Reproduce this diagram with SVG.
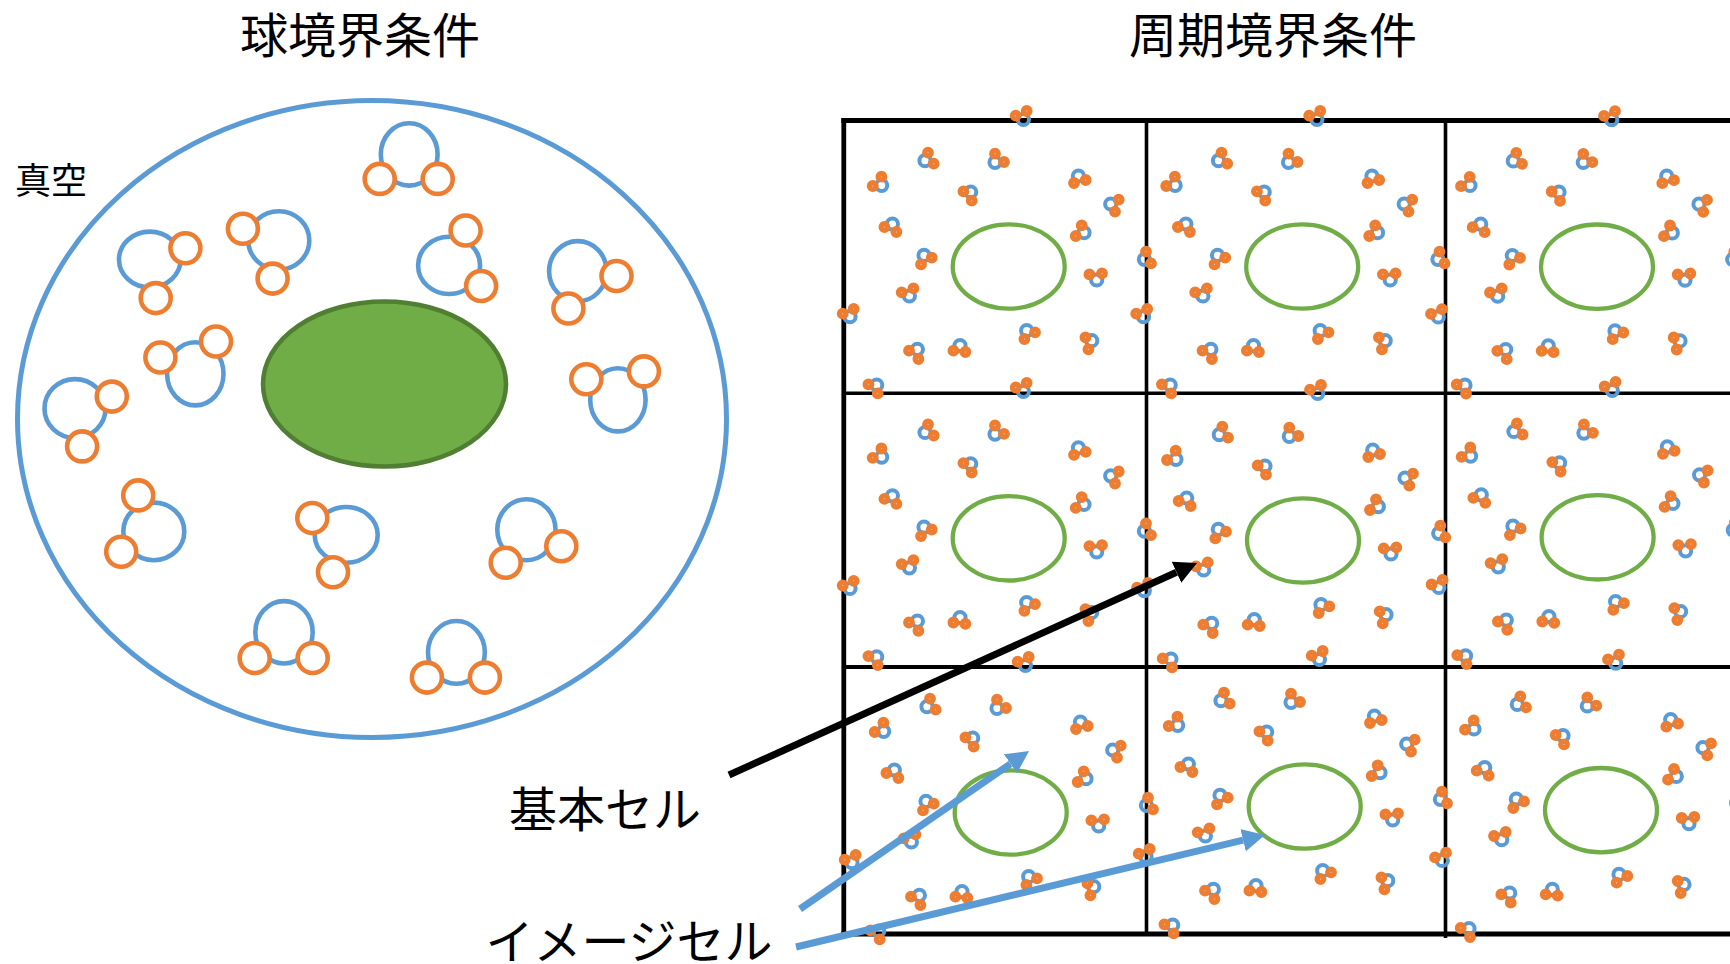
<svg xmlns="http://www.w3.org/2000/svg" xmlns:xlink="http://www.w3.org/1999/xlink" width="1730" height="964" viewBox="0 0 1730 964">
  <style>
    .title { font-family: "Noto Sans CJK JP", "Noto Sans CJK SC", sans-serif; font-size: 48px; fill: #000; }
    .small { font-family: "Noto Sans CJK JP", "Noto Sans CJK SC", sans-serif; font-size: 36px; fill: #000; }
    .vessel { fill: none; stroke: #5B9BD5; stroke-width: 5; }
    .solute { fill: #70AD47; stroke: #507E32; stroke-width: 4.5; }
    .ring { fill: none; stroke: #5B9BD5; stroke-width: 4.6; }
    .atom { fill: #fff; stroke: #ED7D31; stroke-width: 4.6; }
    .grid-outer { stroke: #000; stroke-width: 4.8; fill: none; }
    .grid-inner { stroke: #000; stroke-width: 3.6; fill: none; }
    .s-ring { fill: none; stroke: #70AD47; stroke-width: 4.3; }
    .w { fill: none; stroke: #5B9BD5; stroke-width: 4; }
    .h { fill: #FBE3D1; stroke: #ED7D31; stroke-width: 5.4; }
    .arrow-k { stroke: #000; stroke-width: 7; fill: none; }
    .arrow-b { stroke: #5B9BD5; stroke-width: 7; fill: none; }
  </style>
  <defs>
    <marker id="head-k" viewBox="0 0 10 10" refX="0" refY="5" markerUnits="userSpaceOnUse" markerWidth="22.5" markerHeight="23" preserveAspectRatio="none" orient="auto">
      <path d="M0,0 L10,5 L0,10 z" fill="#000"/>
    </marker>
    <marker id="head-b" viewBox="0 0 10 10" refX="0" refY="5" markerUnits="userSpaceOnUse" markerWidth="22.5" markerHeight="23" preserveAspectRatio="none" orient="auto">
      <path d="M0,0 L10,5 L0,10 z" fill="#5B9BD5"/>
    </marker>
    <!-- one periodic cell: solute outline plus water molecules, centred on the solute -->
    <g id="cell">
      <ellipse cx="0" cy="0" rx="56" ry="42.2" class="s-ring"/>
      <g><circle class="w" cx="14.7" cy="-147" r="5.6"/><circle class="h" cx="7" cy="-150.8" r="3.2"/><circle class="h" cx="18" cy="-155.5" r="3.2"/></g>
      <g><circle class="w" cx="-83.7" cy="-105.8" r="5.6"/><circle class="h" cx="-80.7" cy="-113.8" r="3.2"/><circle class="h" cx="-75" cy="-102.8" r="3.2"/></g>
      <g><circle class="w" cx="-13.7" cy="-104.2" r="5.6"/><circle class="h" cx="-13.7" cy="-112.8" r="3.2"/><circle class="h" cx="-4.7" cy="-104.5" r="3.2"/></g>
      <g><circle class="w" cx="-127" cy="-81.2" r="5.6"/><circle class="h" cx="-127.3" cy="-89.8" r="3.2"/><circle class="h" cx="-136" cy="-80.5" r="3.2"/></g>
      <g><circle class="w" cx="-38" cy="-74.5" r="5.6"/><circle class="h" cx="-45.3" cy="-75.2" r="3.2"/><circle class="h" cx="-37" cy="-65.8" r="3.2"/></g>
      <g><circle class="w" cx="69.7" cy="-90.5" r="5.6"/><circle class="h" cx="65.3" cy="-83.5" r="3.2"/><circle class="h" cx="77" cy="-86.5" r="3.2"/></g>
      <g><circle class="w" cx="102" cy="-62.5" r="5.6"/><circle class="h" cx="110" cy="-66.8" r="3.2"/><circle class="h" cx="106.3" cy="-54.8" r="3.2"/></g>
      <g><circle class="w" cx="-116.3" cy="-42.5" r="5.6"/><circle class="h" cx="-124.3" cy="-39.5" r="3.2"/><circle class="h" cx="-112.3" cy="-34.5" r="3.2"/></g>
      <g><circle class="w" cx="75.3" cy="-33.8" r="5.6"/><circle class="h" cx="73" cy="-41.2" r="3.2"/><circle class="h" cx="67" cy="-30.5" r="3.2"/></g>
      <g><circle class="w" cx="-84.7" cy="-11.2" r="5.6"/><circle class="h" cx="-77" cy="-8.8" r="3.2"/><circle class="h" cx="-87.7" cy="-2.2" r="3.2"/></g>
      <g><circle class="w" cx="135.7" cy="-7.2" r="5.6"/><circle class="h" cx="137.3" cy="-14.8" r="3.2"/><circle class="h" cx="142.3" cy="-3.2" r="3.2"/></g>
      <g><circle class="w" cx="88" cy="13.5" r="5.6"/><circle class="h" cx="80.7" cy="7.8" r="3.2"/><circle class="h" cx="93.3" cy="6.8" r="3.2"/></g>
      <g><circle class="w" cx="-99.3" cy="29.5" r="5.6"/><circle class="h" cx="-107" cy="25.8" r="3.2"/><circle class="h" cx="-95.3" cy="21.8" r="3.2"/></g>
      <g><circle class="w" cx="-158.7" cy="50.2" r="5.6"/><circle class="h" cx="-166" cy="47.2" r="3.2"/><circle class="h" cx="-155" cy="42.5" r="3.2"/></g>
      <g><circle class="w" cx="18" cy="64.2" r="5.6"/><circle class="h" cx="26.3" cy="65.8" r="3.2"/><circle class="h" cx="15.7" cy="72.5" r="3.2"/></g>
      <g><circle class="w" cx="83" cy="74.2" r="5.6"/><circle class="h" cx="76.7" cy="70.8" r="3.2"/><circle class="h" cx="79.7" cy="82.8" r="3.2"/></g>
      <g><circle class="w" cx="-91.3" cy="82.8" r="5.6"/><circle class="h" cx="-99.7" cy="84.2" r="3.2"/><circle class="h" cx="-90.3" cy="92.5" r="3.2"/></g>
      <g><circle class="w" cx="-48.7" cy="79.2" r="5.6"/><circle class="h" cx="-55.3" cy="84.2" r="3.2"/><circle class="h" cx="-43.3" cy="85.5" r="3.2"/></g>
      <g><circle class="w" cx="-132" cy="118.5" r="5.6"/><circle class="h" cx="-140.3" cy="117.8" r="3.2"/><circle class="h" cx="-131" cy="126.8" r="3.2"/></g>
    </g>
  </defs>

  <rect width="1730" height="964" fill="#fff"/>

  <!-- headings -->
  <g id="titles">
    <text class="title" x="360" y="53" text-anchor="middle">球境界条件</text>
    <text class="title" x="1273" y="53" text-anchor="middle">周期境界条件</text>
  </g>

  <!-- spherical boundary: solute in a droplet of water, vacuum outside -->
  <g id="sphere-system">
    <text class="small" x="15" y="194">真空</text>
    <ellipse id="sphere" cx="372" cy="419" rx="354.5" ry="318.5" class="vessel"/>
    <ellipse id="solute" cx="384.5" cy="384" rx="121.5" ry="82.5" class="solute"/>
    <g id="water-a"><ellipse class="ring" cx="409.2" cy="154.4" rx="28.4" ry="31.2"/><circle class="atom" cx="379.7" cy="178.9" r="15"/><circle class="atom" cx="437.7" cy="178.9" r="15"/></g>
    <g id="water-b"><ellipse class="ring" cx="149.8" cy="259.5" rx="30.8" ry="27.9"/><circle class="atom" cx="185.4" cy="248.3" r="15"/><circle class="atom" cx="155.7" cy="298.1" r="15"/></g>
    <g id="water-c"><ellipse class="ring" cx="278.8" cy="240.4" rx="30.5" ry="29.2"/><circle class="atom" cx="242.9" cy="228.7" r="15"/><circle class="atom" cx="272.6" cy="278.6" r="15"/></g>
    <g id="water-d"><ellipse class="ring" cx="449.1" cy="265.4" rx="31" ry="28.6"/><circle class="atom" cx="465.6" cy="230.5" r="15"/><circle class="atom" cx="481.1" cy="286" r="15"/></g>
    <g id="water-e"><ellipse class="ring" cx="577.8" cy="271.2" rx="28.7" ry="30.1"/><circle class="atom" cx="616.5" cy="276" r="15"/><circle class="atom" cx="568.4" cy="308.5" r="15"/></g>
    <g id="water-f"><ellipse class="ring" cx="195.3" cy="373.8" rx="28.2" ry="31.6"/><circle class="atom" cx="160.4" cy="357.5" r="15"/><circle class="atom" cx="216" cy="341.5" r="15"/></g>
    <g id="water-g"><ellipse class="ring" cx="75" cy="408.5" rx="30.5" ry="29.4"/><circle class="atom" cx="111.8" cy="396.6" r="15"/><circle class="atom" cx="82.1" cy="446.4" r="15"/></g>
    <g id="water-h"><ellipse class="ring" cx="617.9" cy="399.8" rx="27.7" ry="31.6"/><circle class="atom" cx="586.3" cy="379.2" r="15"/><circle class="atom" cx="643.9" cy="371.4" r="15"/></g>
    <g id="water-i"><ellipse class="ring" cx="153.8" cy="531.4" rx="30.5" ry="28.8"/><circle class="atom" cx="138.2" cy="495.4" r="15"/><circle class="atom" cx="121.2" cy="551.8" r="15"/></g>
    <g id="water-j"><ellipse class="ring" cx="346.2" cy="534.9" rx="31.5" ry="27.9"/><circle class="atom" cx="312.3" cy="518" r="15"/><circle class="atom" cx="333" cy="572.2" r="15"/></g>
    <g id="water-k"><ellipse class="ring" cx="526.4" cy="529.7" rx="29.1" ry="30.5"/><circle class="atom" cx="505.7" cy="562.7" r="15"/><circle class="atom" cx="561.3" cy="546.2" r="15"/></g>
    <g id="water-l"><ellipse class="ring" cx="284" cy="632.3" rx="28.7" ry="31.2"/><circle class="atom" cx="254.7" cy="658" r="15"/><circle class="atom" cx="312.7" cy="658" r="15"/></g>
    <g id="water-m"><ellipse class="ring" cx="456.4" cy="652.4" rx="28.4" ry="31.4"/><circle class="atom" cx="426.9" cy="677.6" r="15"/><circle class="atom" cx="484.9" cy="677.6" r="15"/></g>
  </g>

  <!-- periodic boundary: 3 x 3 lattice of cells -->
  <g id="lattice">
    <line class="grid-outer" x1="843.8" y1="118" x2="843.8" y2="936.5"/>
    <line class="grid-outer" x1="841.4" y1="120.5" x2="1730" y2="120.5"/>
    <line class="grid-outer" x1="841.4" y1="934" x2="1730" y2="934"/>
    <line class="grid-inner" x1="1146.5" y1="120.5" x2="1146.5" y2="936"/>
    <line class="grid-inner" x1="1445.5" y1="120.5" x2="1445.5" y2="938"/>
    <line class="grid-inner" x1="846" y1="393.2" x2="1730" y2="393.2"/>
    <line class="grid-inner" x1="846" y1="667" x2="1730" y2="667" style="stroke-width:4.2"/>
  </g>
  <g id="cells">
    <use id="cell-1-1" href="#cell" x="1008.7" y="266.5"/>
    <use id="cell-1-2" href="#cell" x="1302.2" y="266.5"/>
    <use id="cell-1-3" href="#cell" x="1597" y="266.7"/>
    <use id="cell-2-1" href="#cell" x="1008.7" y="538.3"/>
    <use id="cell-2-2" href="#cell" x="1303" y="540.5"/>
    <use id="cell-2-3" href="#cell" x="1597.6" y="537.3"/>
    <use id="cell-3-1" href="#cell" x="1010.7" y="812.5"/>
    <use id="cell-3-2" href="#cell" x="1304.7" y="806.5"/>
    <use id="cell-3-3" href="#cell" x="1601" y="810.2"/>
  </g>

  <!-- callout arrows -->
  <g id="connectors">
    <line class="arrow-k" x1="729" y1="775" x2="1176.5" y2="572.3" marker-end="url(#head-k)"/>
    <line class="arrow-b" x1="800" y1="909" x2="1010.5" y2="763.8" marker-end="url(#head-b)"/>
    <line class="arrow-b" x1="796" y1="947" x2="1243.1" y2="840.2" marker-end="url(#head-b)"/>
  </g>

  <g id="labels">
    <text class="title" x="605" y="827" text-anchor="middle">基本セル</text>
    <text class="title" x="629" y="959" text-anchor="middle">イメージセル</text>
  </g>
</svg>
